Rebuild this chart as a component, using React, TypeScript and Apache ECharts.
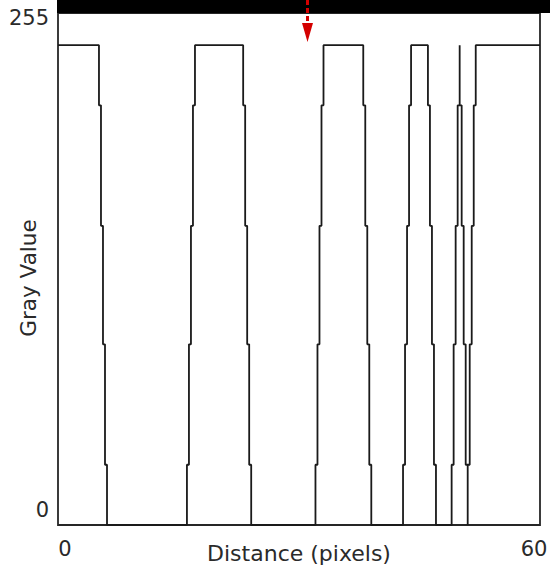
import React, { useEffect, useRef } from "react";
import * as echarts from "echarts";

// Profile change points: at each distance the gray value steps to the listed value
const distance = [
  0,
  5.1, 5.35, 5.6, 5.85, 6.1,
  16.05, 16.3, 16.55, 16.8, 17.05,
  23.05, 23.3, 23.55, 23.8, 24.05,
  32.05, 32.3, 32.55, 32.8, 33.05,
  38.0, 38.25, 38.5, 38.75, 39.0,
  42.95, 43.2, 43.45, 43.7, 43.95,
  46.05, 46.3, 46.55, 46.8, 47.05,
  49.0, 49.25, 49.5, 49.75, 50.0,
  50.0, 50.25, 50.5, 50.75, 51.0,
  51.0, 51.25, 51.5, 51.75, 52.0,
  60,
];
const grayValue = [
  239,
  209, 149, 90, 30, 0,
  30, 90, 149, 209, 239,
  209, 149, 90, 30, 0,
  30, 90, 149, 209, 239,
  209, 149, 90, 30, 0,
  30, 90, 149, 209, 239,
  209, 149, 90, 30, 0,
  30, 90, 149, 209, 239,
  209, 149, 90, 30, 0,
  30, 90, 149, 209, 239,
  239,
];
const xTickLabels = ["0", "60"];
const yTickLabels = ["0", "255"];
const xTitle = "Distance (pixels)";
const yTitle = "Gray Value";

const FONT = "DejaVu Sans";
const TEXT = "#2a2a2a";

export default function App() {
  const ref = useRef<HTMLDivElement>(null);
  useEffect(() => {
    if (!ref.current) return;
    const chart = echarts.init(ref.current, null, { renderer: "svg" });
    const data = distance.map((d, i) => [d, grayValue[i]]);
    chart.setOption({
      animation: false,
      backgroundColor: "#ffffff",
      grid: {
        left: 58,
        top: 13,
        width: 482,
        height: 512,
        containLabel: false,
        outerBoundsMode: "none",
        show: true,
        borderColor: "#262626",
        borderWidth: 1.8,
        backgroundColor: "transparent",
      },
      xAxis: {
        type: "value",
        min: 0,
        max: 60,
        interval: 60,
        axisLine: { show: false },
        axisTick: { show: false },
        splitLine: { show: false },
        axisLabel: {
          margin: 13,
          showMinLabel: true,
          showMaxLabel: true,
          fontFamily: FONT,
          fontSize: 21,
          color: TEXT,
          formatter: (v: number) =>
            v === 0 ? `{l|${xTickLabels[0]}}` : `{r|${xTickLabels[1]}}`,
          rich: {
            l: { padding: [0, 0, 0, 14], fontFamily: FONT, fontSize: 21, color: TEXT },
            r: { padding: [0, 12, 0, 0], fontFamily: FONT, fontSize: 21, color: TEXT },
          },
        },
        name: xTitle,
        nameLocation: "middle",
        nameGap: 17,
        nameMoveOverlap: false,
        nameTextStyle: { fontFamily: FONT, fontSize: 22, color: TEXT },
      },
      yAxis: {
        type: "value",
        min: 0,
        max: 255,
        interval: 255,
        axisLine: { show: false },
        axisTick: { show: false },
        splitLine: { show: false },
        axisLabel: {
          margin: 9,
          showMinLabel: true,
          showMaxLabel: true,
          fontFamily: FONT,
          fontSize: 21,
          color: TEXT,
          formatter: (v: number) =>
            v === 0 ? `{b|${yTickLabels[0]}}` : `{t|${yTickLabels[1]}}`,
          rich: {
            t: { padding: [10, 0, 0, 0], fontFamily: FONT, fontSize: 21, color: TEXT },
            b: { padding: [0, 0, 30, 0], fontFamily: FONT, fontSize: 21, color: TEXT },
          },
        },
        name: yTitle,
        nameLocation: "middle",
        nameGap: 19,
        nameMoveOverlap: false,
        nameTextStyle: {
          fontFamily: FONT,
          fontSize: 21.5,
          color: TEXT,
          padding: [0, 18, 0, 0],
        },
      },
      series: [
        {
          type: "line",
          step: "end",
          data,
          showSymbol: false,
          symbol: "none",
          lineStyle: { color: "#1a1a1a", width: 1.8 },
          z: 3,
        },
      ],
      graphic: [
        {
          type: "rect",
          shape: { x: 57, y: 0, width: 493, height: 13 },
          style: { fill: "#000000" },
          z: 100,
        },
        {
          type: "line",
          shape: { x1: 307.5, y1: 0, x2: 307.5, y2: 24 },
          style: { stroke: "#d40000", lineWidth: 3, lineDash: [5, 3] },
          z: 101,
        },
        {
          type: "polygon",
          shape: { points: [[302, 23], [313, 23], [307.5, 42]] },
          style: { fill: "#d40000" },
          z: 101,
        },
      ],
    });
    return () => chart.dispose();
  }, []);
  return (
    <div
      ref={ref}
      style={{ position: "fixed", left: 0, top: 0, width: 550, height: 569 }}
    />
  );
}
